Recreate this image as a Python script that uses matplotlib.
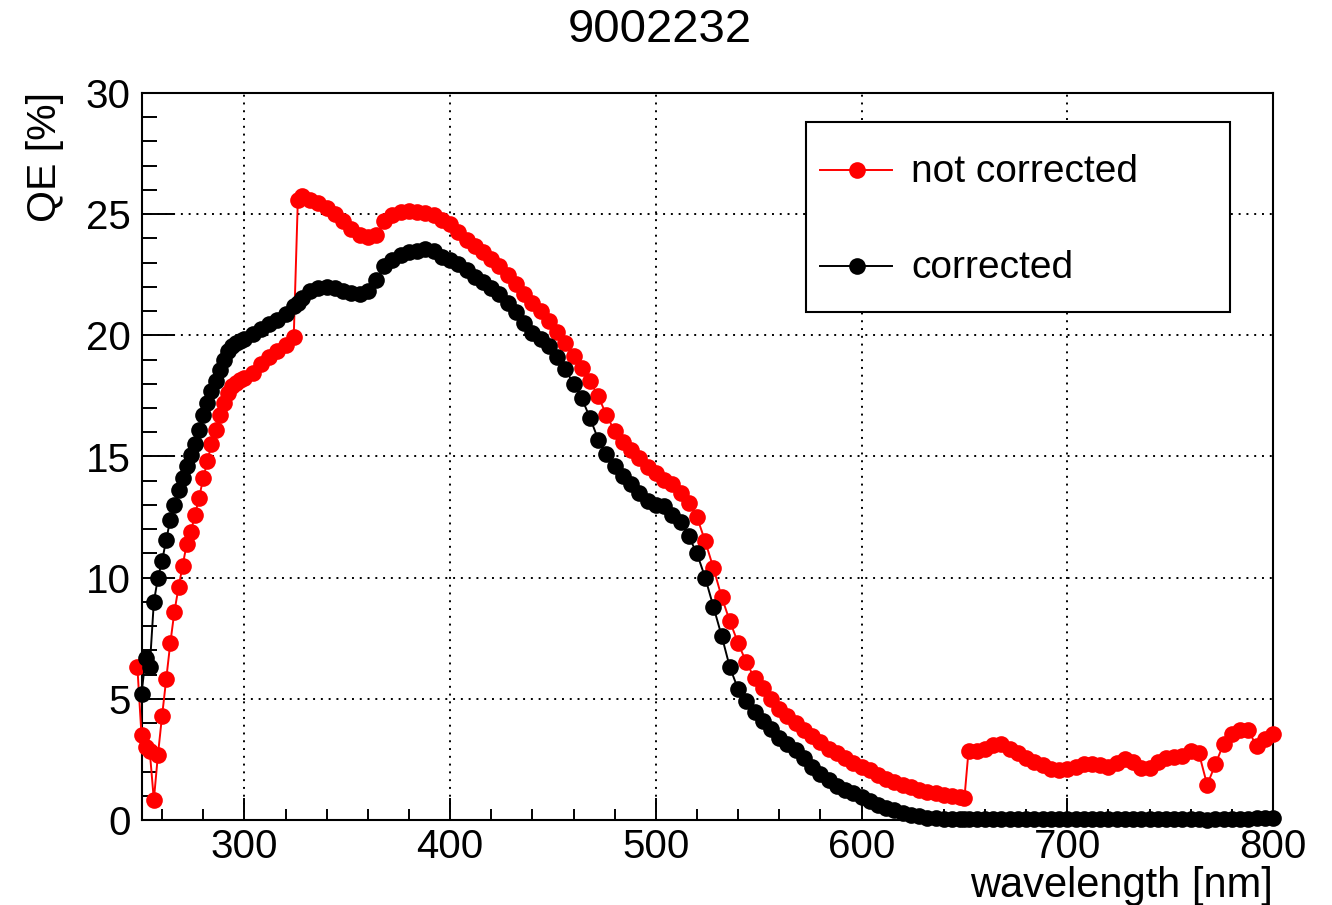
import numpy as np
import matplotlib
matplotlib.use("Agg")
import matplotlib.pyplot as plt
from matplotlib.lines import Line2D
from matplotlib.patches import Rectangle
from matplotlib.ticker import MultipleLocator

plt.rcParams['font.family'] = ['Liberation Sans', 'DejaVu Sans']

nan = float('nan')

title = "9002232"
x_label = "wavelength [nm]"
y_label = "QE [%]"
series_labels = ["not corrected", "corrected"]

wavelength = [
    248, 250, 252, 254, 256, 258, 260, 262, 264, 266, 268, 270, 272, 274, 276, 278, 280,
    282, 284, 286, 288, 290, 292, 294, 296, 298, 300,
    304, 308, 312, 316, 320, 324, 326, 328, 332, 336, 340, 344, 348, 352, 356, 360,
    364, 368, 372, 376, 380, 384, 388, 392, 396, 400, 404, 408, 412, 416, 420, 424,
    428, 432, 436, 440, 444, 448, 452, 456, 460, 464, 468, 472, 476, 480, 484, 488,
    492, 496, 500, 504, 508, 512, 516, 520, 524, 528, 532, 536, 540, 544, 548, 552,
    556, 560, 564, 568, 572, 576, 580, 584, 588, 592, 596, 600, 604, 608, 612, 616,
    620, 624, 628, 632, 636, 640, 644, 648, 650, 652, 656, 660, 664, 668, 672, 676,
    680, 684, 688, 692, 696, 700, 704, 708, 712, 716, 720, 724, 728, 732, 736, 740,
    744, 748, 752, 756, 760, 764, 768, 772, 776, 780, 784, 788, 792, 796, 800,
]

qe_not_corrected = [
    6.3, 3.5, 3.0, 2.85, 0.83, 2.7, 4.3, 5.8, 7.3, 8.6, 9.6, 10.5, 11.4, 11.9, 12.6, 13.3, 14.1,
    14.8, 15.5, 16.1, 16.7, 17.2, 17.6, 17.9, 18.05, 18.15, 18.25,
    18.45, 18.8, 19.1, 19.35, 19.6, 19.95, 25.6, 25.75, 25.6, 25.45, 25.25, 25.0, 24.7, 24.4, 24.15, 24.05,
    24.15, 24.7, 24.95, 25.1, 25.15, 25.1, 25.05, 24.95, 24.75, 24.6, 24.25, 23.95, 23.7, 23.45, 23.15, 22.85,
    22.5, 22.1, 21.7, 21.35, 21.0, 20.6, 20.15, 19.7, 19.15, 18.65, 18.1, 17.5, 16.7, 16.05, 15.6, 15.25,
    14.95, 14.55, 14.3, 14.05, 13.85, 13.5, 13.1, 12.5, 11.5, 10.4, 9.2, 8.2, 7.3, 6.5, 5.85, 5.45,
    5.0, 4.6, 4.3, 4.0, 3.7, 3.45, 3.2, 2.95, 2.75, 2.55, 2.35, 2.2, 2.05, 1.85, 1.7, 1.55,
    1.45, 1.35, 1.25, 1.15, 1.1, 1.05, 1.0, 0.95, 0.9, 2.85, 2.85, 2.95, 3.1, 3.15, 2.95, 2.75,
    2.55, 2.4, 2.25, 2.1, 2.05, 2.1, 2.2, 2.3, 2.3, 2.25, 2.2, 2.35, 2.5, 2.4, 2.15, 2.15,
    2.4, 2.55, 2.6, 2.65, 2.85, 2.75, 1.45, 2.3, 3.15, 3.55, 3.7, 3.7, 3.05, 3.35, 3.55,
]

qe_corrected = [
    nan, 5.2, 6.7, 6.3, 9.0, 10.0, 10.7, 11.55, 12.4, 13.0, 13.6, 14.1, 14.6, 15.05, 15.5, 16.1, 16.7,
    17.2, 17.7, 18.1, 18.55, 19.0, 19.35, 19.55, 19.7, 19.75, 19.85,
    20.05, 20.25, 20.45, 20.65, 20.9, 21.2, 21.35, 21.55, 21.85, 21.95, 22.0, 21.95, 21.85, 21.75, 21.7, 21.85,
    22.3, 22.85, 23.1, 23.3, 23.45, 23.5, 23.55, 23.5, 23.25, 23.1, 22.95, 22.7, 22.4, 22.2, 21.95, 21.7,
    21.35, 20.95, 20.5, 20.1, 19.85, 19.55, 19.1, 18.6, 18.0, 17.4, 16.6, 15.7, 15.1, 14.6, 14.2, 13.85,
    13.5, 13.15, 13.0, 12.95, 12.6, 12.3, 11.7, 11.0, 10.0, 8.8, 7.6, 6.3, 5.4, 4.9, 4.45, 4.1,
    3.75, 3.4, 3.15, 2.9, 2.55, 2.2, 1.9, 1.65, 1.4, 1.25, 1.1, 0.95, 0.8, 0.6, 0.5, 0.4,
    0.3, 0.22, 0.15, 0.1, 0.08, 0.06, 0.05, 0.05, 0.05, 0.05, 0.04, 0.04, 0.03, 0.03, 0.03, 0.03,
    0.03, 0.03, 0.03, 0.03, 0.03, 0.03, 0.03, 0.03, 0.03, 0.03, 0.03, 0.03, 0.03, 0.03, 0.03, 0.03,
    0.03, 0.03, 0.03, 0.03, 0.03, 0.03, 0.0, 0.03, 0.05, 0.05, 0.05, 0.05, 0.08, 0.08, 0.1,
]

W, H = 1332, 905
fig = plt.figure(figsize=(W / 100, H / 100), dpi=100)
L, R, T, B = 141.5, 1273, 93, 820
ax = fig.add_axes([L / W, 1 - B / H, (R - L) / W, (B - T) / H])

ax.set_xlim(250, 800)
ax.set_ylim(0, 30)

ms = 12
ax.plot(wavelength, qe_not_corrected, color='#ff0000', lw=1.4, marker='o', ms=ms,
        mew=0, clip_on=False, zorder=3)
ax.plot(wavelength, qe_corrected, color='black', lw=1.4, marker='o', ms=ms,
        mew=0, clip_on=False, zorder=4)

ax.xaxis.set_major_locator(MultipleLocator(100))
ax.xaxis.set_minor_locator(MultipleLocator(20))
ax.yaxis.set_major_locator(MultipleLocator(5))
ax.yaxis.set_minor_locator(MultipleLocator(1))
ax.grid(True, which='major', color='black', linestyle=(0, (1.0, 3.0)), linewidth=1.4)
ax.set_axisbelow(True)

ax.tick_params(axis='both', which='both', direction='in', top=False, right=False,
               labelsize=29, width=1.4, colors='black')
ax.tick_params(axis='x', which='major', length=16, pad=6)
ax.tick_params(axis='x', which='minor', length=8)
ax.tick_params(axis='y', which='major', length=23, pad=8)
ax.tick_params(axis='y', which='minor', length=11)
for s in ax.spines.values():
    s.set_linewidth(1.5)

# axis labels (ROOT style: aligned to the ends of the axes)
fig.text(R / W, 1 - 886 / H, x_label, ha='right', va='center', fontsize=30)
fig.text(45 / W, 1 - 92 / H, y_label, ha='center', va='top', rotation=90, fontsize=29.5)

fig.text(660 / W, 1 - 30 / H, title, ha='center', va='center', fontsize=34)

# legend box
lx0, ly0, lx1, ly1 = 806, 122, 1230, 312
fig.add_artist(Rectangle((lx0 / W, 1 - ly1 / H), (lx1 - lx0) / W, (ly1 - ly0) / H,
                         transform=fig.transFigure, facecolor='white', edgecolor='black',
                         lw=1.5, zorder=10))
for yc, col, lab in [(170, '#ff0000', series_labels[0]), (266, 'black', series_labels[1])]:
    fig.add_artist(Line2D([820 / W, 892 / W], [1 - yc / H, 1 - yc / H], color=col, lw=1.4,
                          transform=fig.transFigure, zorder=11))
    fig.add_artist(Line2D([857 / W], [1 - yc / H], color=col, marker='o', ms=ms, mew=0,
                          transform=fig.transFigure, zorder=12))
    fig.text(911 / W, 1 - (yc + 2) / H, lab, ha='left', va='center', fontsize=28, zorder=12)

fig.savefig("out.png", dpi=100)
